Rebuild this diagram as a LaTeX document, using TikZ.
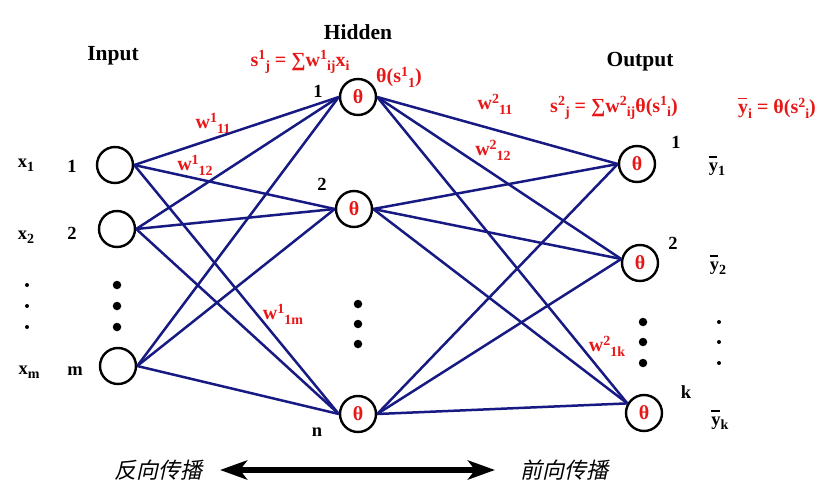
\documentclass[tikz,border=0pt]{standalone}
\usepackage{fontspec}
\setmainfont{Liberation Serif}
\newfontfamily\cjk[FakeSlant=0.22]{Noto Sans CJK SC}
\usetikzlibrary{arrows.meta}
\definecolor{navy}{RGB}{22,26,130}
\definecolor{rd}{RGB}{232,22,22}
\newcommand\Sp[1]{\raisebox{0.32em}{\fontsize{14}{14}\selectfont #1}}
\newcommand\Sb[1]{\raisebox{-0.22em}{\fontsize{14}{14}\selectfont #1}}
\newcommand\ybar{\rlap{\raisebox{0.74em}{\rule{0.45em}{0.07em}}}y}
\begin{document}
\begin{tikzpicture}[x=1pt,y=-1pt,
  neuron/.style={circle,draw=black,line width=2.4pt,minimum size=36pt,inner sep=0pt,text=rd,font=\fontsize{20}{20}\selectfont\bfseries},
  edge/.style={draw=navy,line width=2.5pt},
  title/.style={font=\fontsize{21.5}{22}\selectfont\bfseries,inner sep=0pt},
  lbl/.style={font=\fontsize{18.5}{19}\selectfont\bfseries,inner sep=0pt},
  rlbl/.style={font=\fontsize{20}{20}\selectfont\bfseries,text=rd,inner sep=0pt},
  bigdot/.style={circle,fill=black,minimum size=8.5pt,inner sep=0pt},
  smalldot/.style={circle,fill=black,minimum size=4pt,inner sep=0pt},
  cn/.style={font=\fontsize{22}{22}\cjk,inner sep=0pt}]
\useasboundingbox (0,0) rectangle (833,500);
% neurons
\node[neuron] (i1) at (115,165) {};
\node[neuron] (i2) at (117,229) {};
\node[neuron] (im) at (118,366) {};
\node[neuron] (h1) at (358,97) {θ};
\node[neuron] (h2) at (354,209) {θ};
\node[neuron] (hn) at (358,414) {θ};
\node[neuron] (o1) at (637,164) {θ};
\node[neuron] (o2) at (640,263) {θ};
\node[neuron] (ok) at (644,413) {θ};
% edges
\foreach \a in {i1,i2,im}
  \foreach \b in {h1,h2,hn}
    \draw[edge] (\a.east) -- (\b.west);
\foreach \a in {h1,h2,hn}
  \foreach \b/\an in {o1/west,o2/168,ok/150}
    \draw[edge] (\a.east) -- (\b.\an);
% titles
\node[title] (tin) at (113,56) {Input};
\node[title] (thid) at (358,32) {Hidden};
\node[title] (tout) at (640,62) {Output};
% input side labels
\node[lbl] (x1) at (26,165) {x\Sb{1}};
\node[lbl] (x2) at (26,237) {x\Sb{2}};
\node[lbl] (xm) at (29,372) {x\Sb{m}};
\node[lbl] (n1) at (72,166) {1};
\node[lbl] (n2) at (72,233) {2};
\node[lbl] (nm) at (75,371) {m};
\foreach \y [count=\k] in {285,306,327}{
  \node[smalldot] (ld\k) at (27,\y) {};
  \node[bigdot] (id\k) at (117,\y) {};
}
% hidden labels
\node[lbl] (hl1) at (318,91) {1};
\node[lbl] (hl2) at (322,184) {2};
\node[lbl] (hln) at (317,432) {n};
\foreach \y [count=\k] in {304,324,344}
  \node[bigdot] (hd\k) at (358,\y) {};
% output labels
\node[lbl] (ol1) at (676,142) {1};
\node[lbl] (ol2) at (673,243) {2};
\node[lbl] (olk) at (686,392) {k};
\node[lbl] (y1) at (717,166) {\ybar\Sb{1}};
\node[lbl] (y2) at (718,265) {\ybar\Sb{2}};
\node[lbl] (yk) at (720,420) {\ybar\Sb{k}};
\foreach \y [count=\k] in {322,342,363}{
  \node[bigdot] (od\k) at (643,\y) {};
  \node[smalldot] (rd\k) at (719,\y) {};
}
% red formulas
\node[rlbl] (f1) at (300,62) {s\Sp{1}\Sb{j} = ∑w\Sp{1}\Sb{ij}x\Sb{i}};
\node[rlbl,anchor=west] (f2) at (376,77) {θ(s\Sp{1}\Sb{1})};
\node[rlbl] (f3) at (614,108) {s\Sp{2}\Sb{j} = ∑w\Sp{2}\Sb{ij}θ(s\Sp{1}\Sb{i})};
\node[rlbl] (f4) at (777,108) {\ybar\Sb{i} = θ(s\Sp{2}\Sb{i})};
\node[rlbl] (w111) at (213,123) {w\Sp{1}\Sb{11}};
\node[rlbl] (w112) at (195,165) {w\Sp{1}\Sb{12}};
\node[rlbl] (w11m) at (283,314) {w\Sp{1}\Sb{1m}};
\node[rlbl] (w211) at (495,104) {w\Sp{2}\Sb{11}};
\node[rlbl] (w212) at (493,150) {w\Sp{2}\Sb{12}};
\node[rlbl] (w21k) at (607,346) {w\Sp{2}\Sb{1k}};
% bottom arrow
\node[cn] (bp) at (158,470) {反向传播};
\node[cn] (fp) at (564,470) {前向传播};
\coordinate (al) at (220,470);
\coordinate (ar) at (495,470);
\draw[line width=6pt,{Stealth[length=27pt,width=19pt,inset=7pt]}-{Stealth[length=27pt,width=19pt,inset=7pt]}] (al) -- (ar);
\end{tikzpicture}
\end{document}
